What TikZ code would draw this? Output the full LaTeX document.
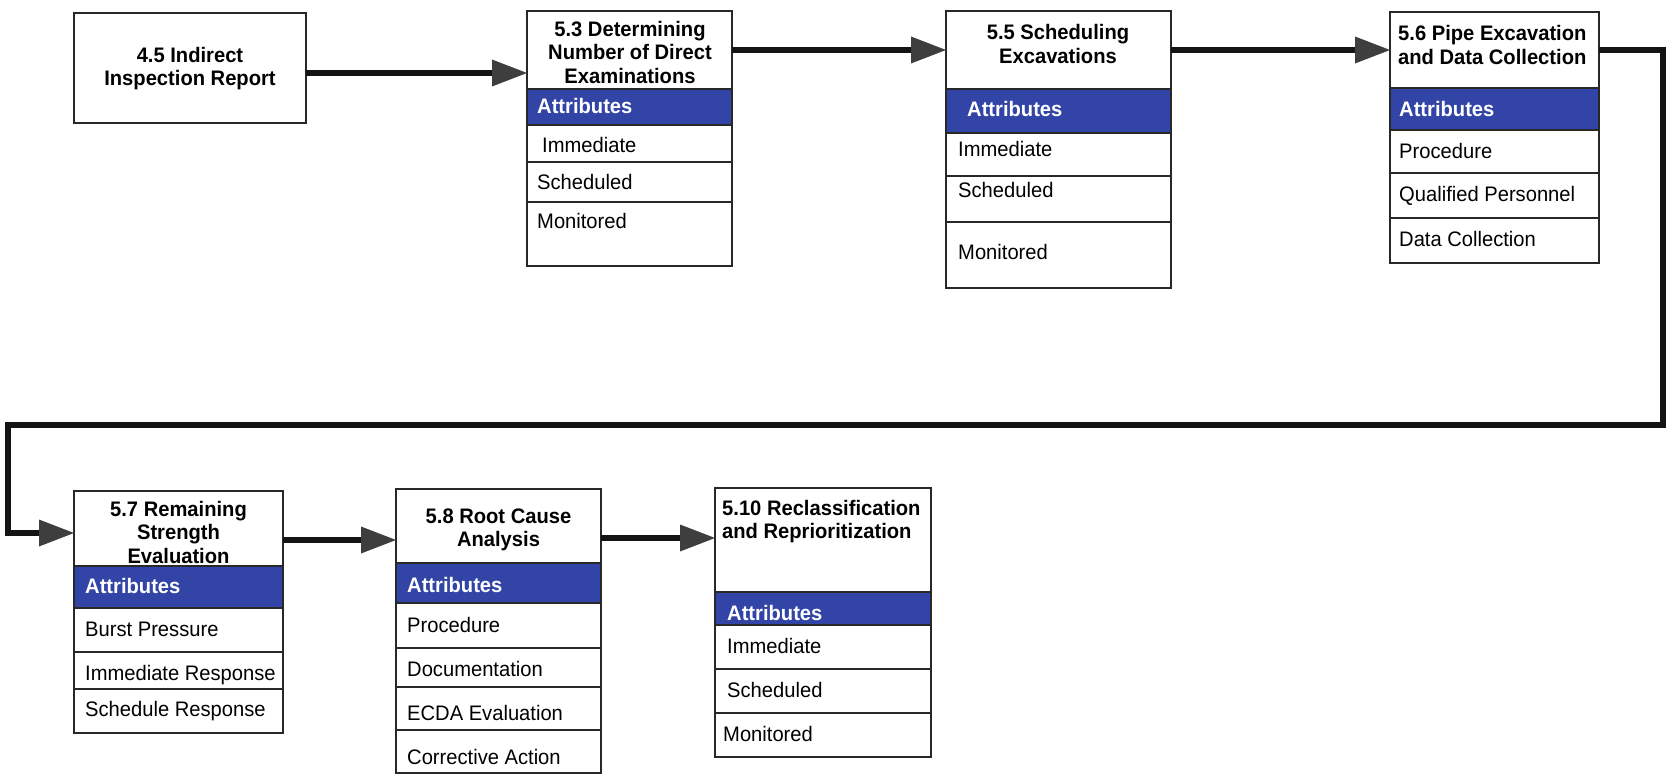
\documentclass[tikz,border=0pt]{standalone}
\usepackage{fontspec}
\setmainfont{Liberation Sans}[FakeStretch=0.96]
\usetikzlibrary{arrows.meta}
\definecolor{attblue}{RGB}{50,68,165}
\definecolor{edgecol}{RGB}{40,40,40}
\definecolor{headgray}{RGB}{62,62,62}
\newcommand\cellbox[6]{\node[#6, minimum width={(#4)-(#2)}, minimum height={(#5)-(#3)}] (#1) at ({((#2)+(#4))/2},{((#3)+(#5))/2}) {};}
\begin{document}
\begin{tikzpicture}[x=1pt,y=-1pt,
  cell/.style={draw=edgecol, line width=1.6pt, fill=white, inner sep=0pt, outer sep=0pt},
  att/.style={cell, fill=attblue},
  ttl/.style={font=\bfseries\fontsize{21}{23.5}\selectfont, align=center, inner sep=0pt},
  rtx/.style={font=\fontsize{21}{23.5}\selectfont, anchor=base west, inner sep=0pt},
  atx/.style={rtx, font=\bfseries\fontsize{21}{23.5}\selectfont, text=white},
  arr/.style={draw=black!92, line width=5.5pt, line join=miter,
    -{Triangle[length=35pt,width=27pt,fill=headgray,line width=0pt]}}]
\useasboundingbox (0,0) rectangle (1667,775);

% 4.5
\cellbox{b45}{74}{13}{306}{123}{cell}
\node[ttl] (t45) at (190,68.5) {4.5 Indirect\\Inspection Report};

% 5.3
\cellbox{b53t}{527}{11}{732}{89}{cell}
\cellbox{b53a}{527}{89}{732}{125}{att}
\cellbox{b53r1}{527}{125}{732}{162}{cell}
\cellbox{b53r2}{527}{162}{732}{202}{cell}
\cellbox{b53r3}{527}{202}{732}{266}{cell}
\node[ttl] (t53) at (630,52) {5.3 Determining\\Number of Direct\\Examinations};
\node[atx] (t53a) at (537,114) {Attributes};
\node[rtx] (t53r1) at (542,153) {Immediate};
\node[rtx] (t53r2) at (537,190) {Scheduled};
\node[rtx] (t53r3) at (537,229) {Monitored};

% 5.5
\cellbox{b55t}{946}{11}{1171}{89}{cell}
\cellbox{b55a}{946}{89}{1171}{133}{att}
\cellbox{b55r1}{946}{133}{1171}{176}{cell}
\cellbox{b55r2}{946}{176}{1171}{222}{cell}
\cellbox{b55r3}{946}{222}{1171}{288}{cell}
\node[ttl] (t55) at (1058,44) {5.5 Scheduling\\Excavations};
\node[atx] (t55a) at (967,117) {Attributes};
\node[rtx] (t55r1) at (958,157) {Immediate};
\node[rtx] (t55r2) at (958,198) {Scheduled};
\node[rtx] (t55r3) at (958,260) {Monitored};

% 5.6
\cellbox{b56t}{1390}{12}{1599}{88}{cell}
\cellbox{b56a}{1390}{88}{1599}{130}{att}
\cellbox{b56r1}{1390}{130}{1599}{173}{cell}
\cellbox{b56r2}{1390}{173}{1599}{218}{cell}
\cellbox{b56r3}{1390}{218}{1599}{263}{cell}
\node[ttl, align=left, anchor=west] (t56) at (1398,45) {5.6 Pipe Excavation\\and Data Collection};
\node[atx] (t56a) at (1399,117) {Attributes};
\node[rtx] (t56r1) at (1399,159) {Procedure};
\node[rtx] (t56r2) at (1399,202) {Qualified Personnel};
\node[rtx] (t56r3) at (1399,247) {Data Collection};

% 5.7
\cellbox{b57t}{74}{491}{283}{566}{cell}
\cellbox{b57a}{74}{566}{283}{608}{att}
\cellbox{b57r1}{74}{608}{283}{652}{cell}
\cellbox{b57r2}{74}{652}{283}{689}{cell}
\cellbox{b57r3}{74}{689}{283}{733}{cell}
\node[ttl] (t57) at (178.5,532) {5.7 Remaining\\Strength\\Evaluation};
\node[atx] (t57a) at (85,593) {Attributes};
\node[rtx] (t57r1) at (85,636) {Burst Pressure};
\node[rtx] (t57r2) at (85,680) {Immediate Response};
\node[rtx] (t57r3) at (85,716) {Schedule Response};

% 5.8
\cellbox{b58t}{396}{489}{601}{563}{cell}
\cellbox{b58a}{396}{563}{601}{603}{att}
\cellbox{b58r1}{396}{603}{601}{648}{cell}
\cellbox{b58r2}{396}{648}{601}{687}{cell}
\cellbox{b58r3}{396}{687}{601}{730}{cell}
\cellbox{b58r4}{396}{730}{601}{773}{cell}
\node[ttl] (t58) at (498.5,530) {5.8 Root Cause\\Analysis};
\node[atx] (t58a) at (407,592) {Attributes};
\node[rtx] (t58r1) at (407,632) {Procedure};
\node[rtx] (t58r2) at (407,676) {Documentation};
\node[rtx] (t58r3) at (407,720) {ECDA Evaluation};
\node[rtx] (t58r4) at (407,764) {Corrective Action};

% 5.10
\cellbox{b510t}{715}{488}{931}{592}{cell}
\cellbox{b510a}{715}{592}{931}{625}{att}
\cellbox{b510r1}{715}{625}{931}{669}{cell}
\cellbox{b510r2}{715}{669}{931}{713}{cell}
\cellbox{b510r3}{715}{713}{931}{757}{cell}
\node[ttl, align=left, anchor=west] (t510) at (722,521.5) {5.10 Reclassification\\and Reprioritization};
\node[atx] (t510a) at (727,620) {Attributes};
\node[rtx] (t510r1) at (727,653) {Immediate};
\node[rtx] (t510r2) at (727,697) {Scheduled};
\node[rtx] (t510r3) at (723,741) {Monitored};

% connectors
\coordinate (cR) at (1663,425);
\coordinate (cL) at (8,425);
\draw[arr] ([yshift=-5pt]b45.east) -- ([yshift=-5pt]b45.east -| b53t.west);
\draw[arr] (b53t.east) -- (b55t.west);
\draw[arr] (b55t.east) -- (b56t.west);
\draw[arr] (b56t.east) -| (cR) -- (cL) |- ([yshift=-4.5pt]b57t.west);
\draw[arr] ([yshift=-11.5pt]b57t.east) -- ([yshift=-11.5pt]b57t.east -| b58t.west);
\draw[arr] ([yshift=-12pt]b58t.east) -- ([yshift=-12pt]b58t.east -| b510t.west);
\end{tikzpicture}
\end{document}
